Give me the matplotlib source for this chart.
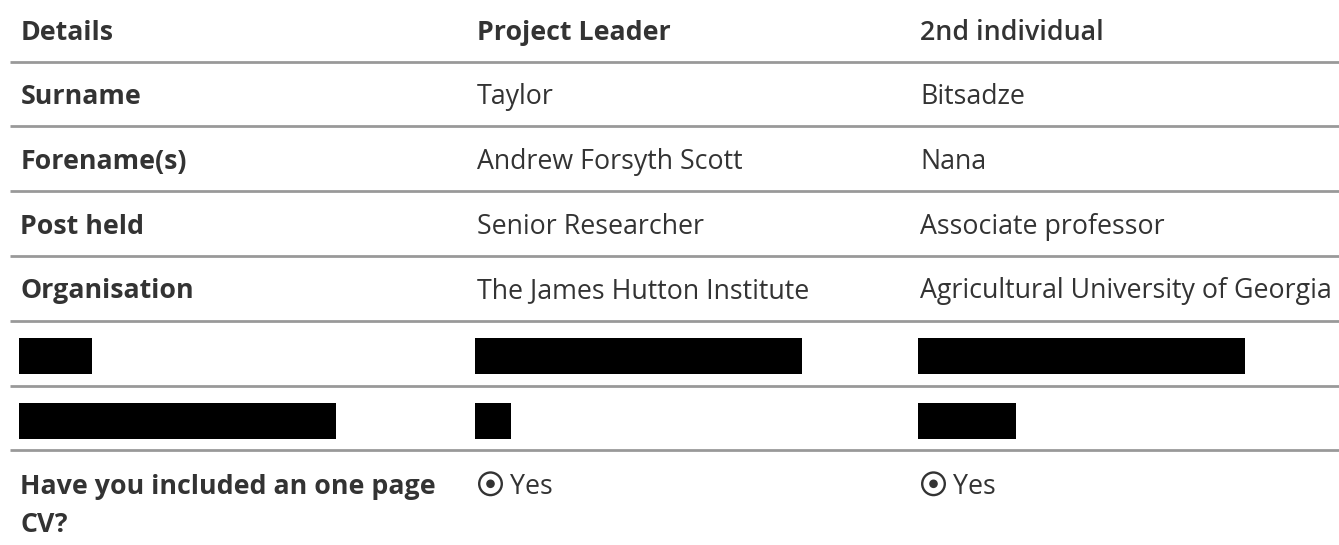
import matplotlib.pyplot as plt
from matplotlib.patches import Circle, Rectangle

plt.rcParams['font.family'] = ['Open Sans', 'DejaVu Sans']

# table content
headers = ["Details", "Project Leader", "2nd individual"]
details = ["Surname", "Forename(s)", "Post held", "Organisation"]
leader = ["Taylor", "Andrew Forsyth Scott", "Senior Researcher", "The James Hutton Institute"]
second = ["Bitsadze", "Nana", "Associate professor", "Agricultural University of Georgia"]
# widths (px) of the blacked-out cells, rows 6 and 7
redacted = [[73, 327, 327], [317, 36, 98]]
cv_question = ["Have you included an one page", "CV?"]
cv_answers = ["Yes", "Yes"]

W, H = 1339, 545
fig = plt.figure(figsize=(W / 100, H / 100), dpi=100)
ax = fig.add_axes([0, 0, 1, 0.999999])
ax.set_xlim(0, W)
ax.set_ylim(H, 0)
ax.axis('off')

txt = '#333333'
fs = 26.8 * 0.72
box_x = [19, 475, 918]   # left edge of cells (redaction boxes)
col_x = [20.5, 477, 920]  # text origin
row_h = 64.8
first_line = 61.5

# header
for i, h in enumerate(headers):
    ax.text(col_x[i], first_line - row_h + 43, h, fontsize=fs, color=txt,
            fontweight='bold' if i < 2 else 'semibold', va='baseline')

# separator lines
n_rows = len(details) + len(redacted) + 1
for r in range(n_rows):
    y = first_line + r * row_h
    ax.plot([10, W], [y, y], color='#999999', lw=2.0, solid_capstyle='butt')

# named rows
for r in range(len(details)):
    yb = first_line + r * row_h + 42.5
    ax.text(col_x[0], yb, details[r], fontsize=fs, color=txt, fontweight='bold', va='baseline')
    ax.text(col_x[1], yb, leader[r], fontsize=fs, color=txt, va='baseline')
    ax.text(col_x[2], yb, second[r], fontsize=fs, color=txt, va='baseline')

# redacted rows
for k, widths in enumerate(redacted):
    top = first_line + (len(details) + k) * row_h + 17
    for c, w in enumerate(widths):
        ax.add_patch(Rectangle((box_x[c], top), w, 36, color='black', lw=0))

# CV row
top = first_line + (len(details) + len(redacted)) * row_h
ax.text(col_x[0], top + 44, cv_question[0], fontsize=fs, color=txt, fontweight='bold', va='baseline')
ax.text(col_x[0], top + 82, cv_question[1], fontsize=fs, color=txt, fontweight='bold', va='baseline')
for c, ans in zip([1, 2], cv_answers):
    cx = box_x[c] + 15.5
    cy = top + 33.5
    ax.add_patch(Circle((cx, cy), 11.3, fill=False, ec=txt, lw=1.7))
    ax.add_patch(Circle((cx, cy), 4.3, color=txt, lw=0))
    ax.text(box_x[c] + 35, top + 44, ans, fontsize=fs, color=txt, va='baseline')

fig.savefig('out.png', dpi=100, facecolor='white')
